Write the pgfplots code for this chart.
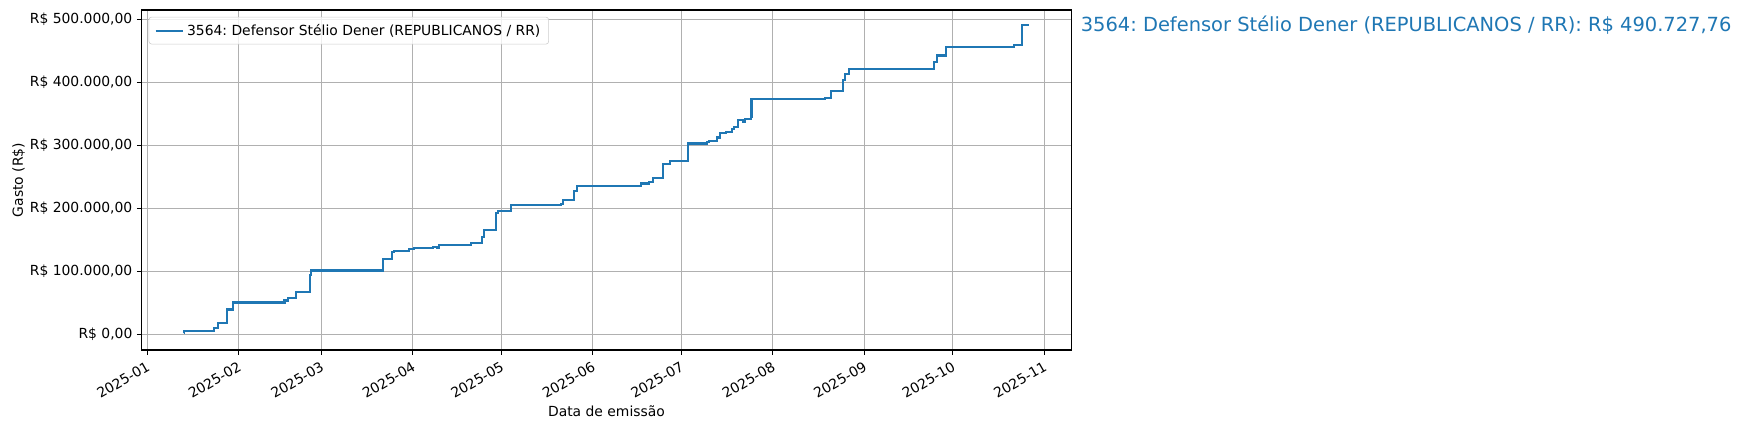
\documentclass[border=0pt]{standalone}
\usepackage{fontspec}
\setmainfont{DejaVu Sans}
\usepackage{pgfplots}
\pgfplotsset{compat=1.18}
\frenchspacing

\definecolor{c0}{RGB}{31,119,180}
\definecolor{gridgray}{RGB}{176,176,176}
\definecolor{legframe}{RGB}{204,204,204}

% cumulative spend, x = days since 2025-01-01
\pgfplotstableread{
day value
12.4 2000
12.6 5700
22.5 9900
23.9 18900
27.0 39800
29.0 50900
46.5 54000
47.6 57600
50.4 67100
55.2 93900
55.5 101700
79.9 120600
82.8 131200
83.7 133200
88.8 135400
90.5 137000
97.0 139000
98.3 137500
98.9 142200
109.6 144900
113.4 155300
114.0 165800
118.1 173700
118.3 193700
118.9 196200
123.4 205200
140.1 207900
140.9 213100
144.6 227200
145.8 235600
167.5 239800
170.0 241900
171.5 248200
174.9 270900
177.3 275000
183.3 303300
189.8 306000
190.5 308000
193.1 312800
194.2 320600
196.3 322200
198.2 326000
199.0 329100
200.2 340600
201.9 337500
202.7 342700
204.5 345800
204.8 374200
229.7 375700
231.7 386800
235.7 403600
236.5 414200
237.8 421400
266.7 432400
267.6 443000
270.7 456000
293.7 459800
296.6 490727.76
298.9 490727.76
}\gasto

\begin{document}
\begin{tikzpicture}[x=1bp,y=1bp]
\coordinate (axisorigin) at (102,57.6);
\begin{axis}[
    at={(axisorigin)}, anchor=south west,
    scale only axis,
    width=669.3bp, height=244.8bp,
    font=\fontsize{10bp}{12bp}\selectfont,
    xmin=-1.9, xmax=313.2,
    ymin=-24536, ymax=515264,
    xtick={0,31,59,90,120,151,181,212,243,273,304},
    xticklabels={2025-01,2025-02,2025-03,2025-04,2025-05,2025-06,2025-07,2025-08,2025-09,2025-10,2025-11},
    ytick={0,100000,200000,300000,400000,500000},
    yticklabels={{R\$ 0,00},{R\$ 100.000,00},{R\$ 200.000,00},{R\$ 300.000,00},{R\$ 400.000,00},{R\$ 500.000,00}},
    scaled y ticks=false,
    xtick pos=left, ytick pos=left,
    tick align=outside,
    major tick length=3.5bp,
    tick style={black, line width=0.8bp},
    axis line style={line width=0.8bp},
    grid=major,
    major grid style={gridgray, line width=0.8bp},
    xticklabel style={rotate=30, anchor=north east, inner sep=0pt, yshift=-3bp, xshift=-3bp},
    yticklabel style={anchor=east, inner sep=0pt, xshift=-3bp},
    xlabel={Data de emissão},
    ylabel={Gasto (R\$)},
    xlabel style={at={(axis description cs:0.5,-0.196)}, anchor=base},
    ylabel style={at={(axis description cs:-0.1278,0.5)}, anchor=base},
    legend style={at={(axis description cs:0.0075,0.98)}, anchor=north west,
        draw=legframe, rounded corners=2bp, fill=white, fill opacity=0.8, text opacity=1,
        inner xsep=4bp, inner ysep=3bp,
        font=\fontsize{10bp}{12bp}\selectfont},
    legend cell align=left,
    legend image code/.code={\draw[#1] (0bp,0bp) -- (20bp,0bp);},
]
\addplot[const plot, c0, line width=1.5bp] table[x=day, y=value] {\gasto};
\addlegendentry{3564: Defensor Stélio Dener (REPUBLICANOS / RR)}
\end{axis}
\node[anchor=base west, text=c0, font=\fontsize{14bp}{16.8bp}\selectfont, inner sep=0pt]
    at (778,286.6) {3564: Defensor Stélio Dener (REPUBLICANOS / RR): R\$ 490.727,76};
\pgfresetboundingbox
\useasboundingbox (0,0) rectangle (1253.5,309.6);
\end{tikzpicture}
\end{document}
